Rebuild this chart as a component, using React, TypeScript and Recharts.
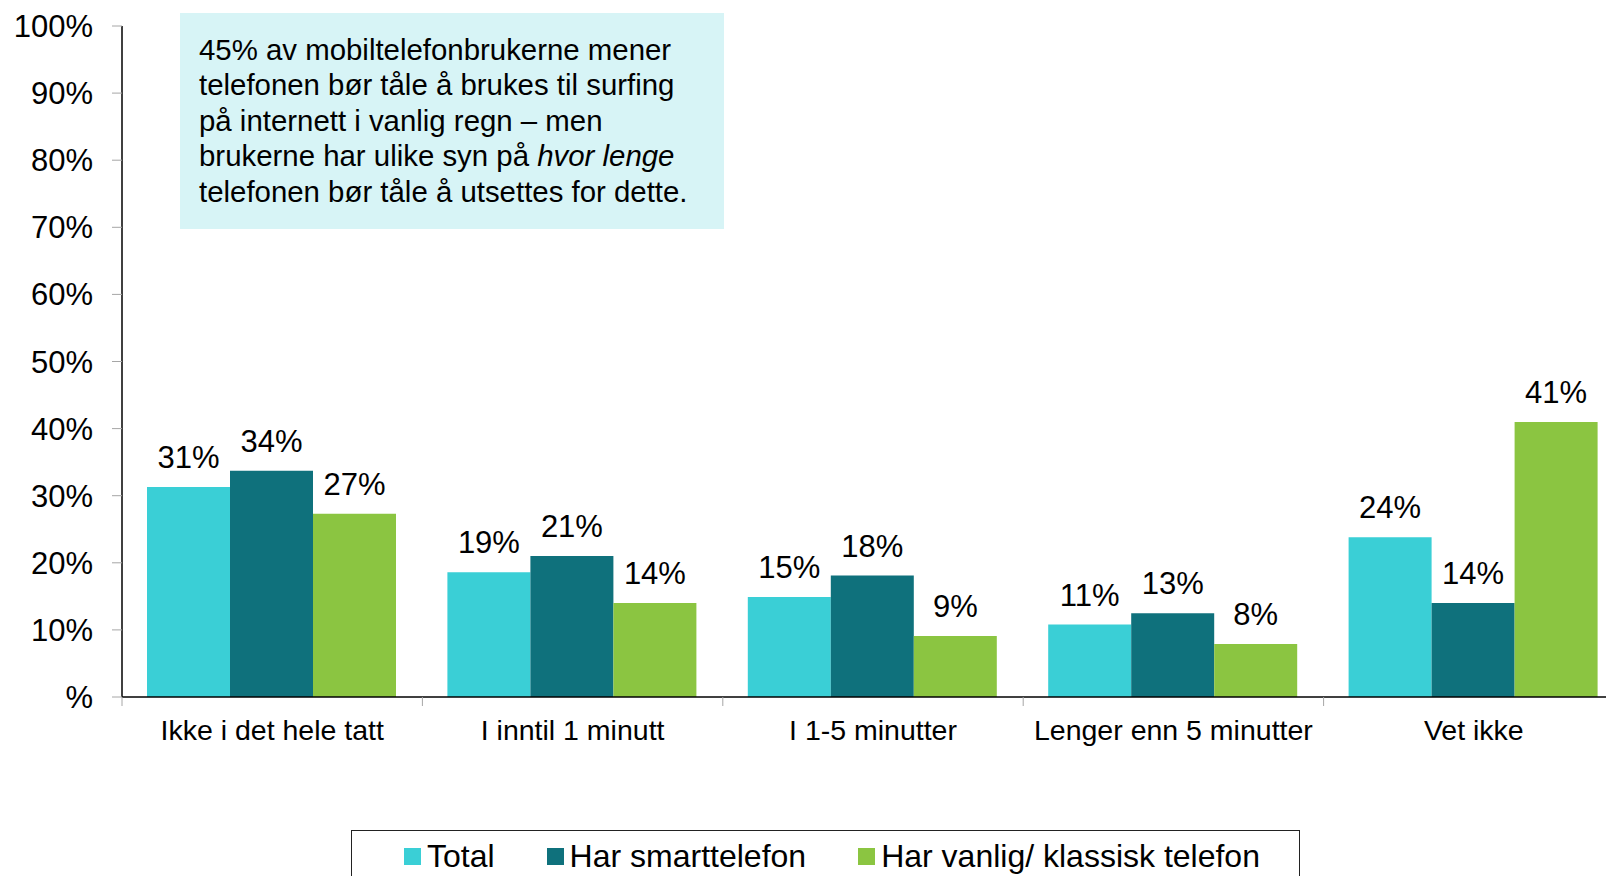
import React from 'react';
import { BarChart, Bar, XAxis, YAxis, LabelList } from 'recharts';

const categories = ['Ikke i det hele tatt', 'I inntil 1 minutt', 'I 1-5 minutter', 'Lenger enn 5 minutter', 'Vet ikke'];
const totalValues = [31.3, 18.6, 14.9, 10.8, 23.8];
const smartValues = [33.7, 21.0, 18.1, 12.5, 14.0];
const classicValues = [27.3, 14.0, 9.1, 7.9, 41.0];
const yTicks = [0, 10, 20, 30, 40, 50, 60, 70, 80, 90, 100];
const seriesKeys = ['total', 'smart', 'classic'];
const seriesNames = ['Total', 'Har smarttelefon', 'Har vanlig/ klassisk telefon'];
const seriesColors = ['#3acfd6', '#0f717c', '#8bc541'];

const data = categories.map((c, i) => ({
  name: c,
  total: totalValues[i],
  smart: smartValues[i],
  classic: classicValues[i],
}));

const FONT = '"Liberation Sans", Arial, Helvetica, sans-serif';
const CHART_W = 1624;
const CHART_H = 876;
const Y_AXIS_W = 122;
const BAND = (CHART_W - Y_AXIS_W) / categories.length;

function XTick(props: any) {
  const { x, y, payload } = props;
  return (
    <g>
      <line x1={x - BAND / 2} x2={x - BAND / 2} y1={y} y2={y + 9} stroke="#a6a6a6" strokeWidth={1} />
      <text x={x} y={y + 43} textAnchor="middle" fontSize={28.5} fill="#000" fontFamily={FONT}>
        {payload.value}
      </text>
    </g>
  );
}

const pct = (v: any) => `${Math.round(Number(v))}%`;

export default function App() {
  return (
    <div
      style={{
        position: 'absolute',
        left: 0,
        top: 0,
        width: 1606,
        height: 876,
        overflow: 'hidden',
        background: '#fff',
        fontFamily: FONT,
      }}
    >
      <BarChart
        width={CHART_W}
        height={CHART_H}
        data={data}
        margin={{ top: 26, right: 0, left: 0, bottom: 119 }}
        barCategoryGap={25}
        barGap={0}
      >
        <XAxis
          dataKey="name"
          height={60}
          axisLine={{ stroke: '#000', strokeWidth: 1.5 }}
          tickLine={false}
          tickSize={0}
          tickMargin={0}
          interval={0}
          tick={<XTick />}
        />
        <YAxis
          width={Y_AXIS_W}
          domain={[0, 100]}
          ticks={yTicks}
          interval={0}
          allowDataOverflow
          tickFormatter={(v: number) => (v === 0 ? '%' : `${v}%`)}
          axisLine={{ stroke: '#000', strokeWidth: 1.5 }}
          tickLine={{ stroke: '#a6a6a6' }}
          tickSize={10}
          tickMargin={19}
          tick={{ fontSize: 31, fill: '#000', fontFamily: FONT }}
        />
        {seriesKeys.map((k, i) => (
          <Bar key={k} dataKey={k} name={seriesNames[i]} fill={seriesColors[i]} isAnimationActive={false}>
            <LabelList
              dataKey={k}
              position="top"
              offset={19}
              formatter={pct}
              fontSize={31}
              fill="#000"
              fontFamily={FONT}
            />
          </Bar>
        ))}
      </BarChart>

      <div
        style={{
          position: 'absolute',
          left: 180,
          top: 13,
          width: 544,
          height: 216,
          background: '#d7f4f6',
          boxSizing: 'border-box',
          padding: '19px 0 0 19px',
          fontSize: 29.4,
          lineHeight: '35.4px',
          color: '#000',
          whiteSpace: 'nowrap',
        }}
      >
        45% av mobiltelefonbrukerne mener
        <br />
        telefonen bør tåle å brukes til surfing
        <br />
        på internett i vanlig regn – men
        <br />
        brukerne har ulike syn på <i>hvor lenge</i>
        <br />
        telefonen bør tåle å utsettes for dette.
      </div>

      <div
        style={{
          position: 'absolute',
          left: 351,
          top: 830,
          width: 949,
          height: 80,
          border: '1.5px solid #222',
          boxSizing: 'border-box',
          display: 'flex',
          justifyContent: 'flex-start',
          alignItems: 'flex-start',
          paddingTop: 7,
          paddingLeft: 52,
          gap: 52,
        }}
      >
        {seriesNames.map((n, i) => (
          <div key={n} style={{ display: 'flex', alignItems: 'center', fontSize: 32, lineHeight: '36px', color: '#000' }}>
            <span style={{ display: 'inline-block', width: 17, height: 17, background: seriesColors[i], marginRight: 6 }} />
            <span>{n}</span>
          </div>
        ))}
      </div>
    </div>
  );
}
